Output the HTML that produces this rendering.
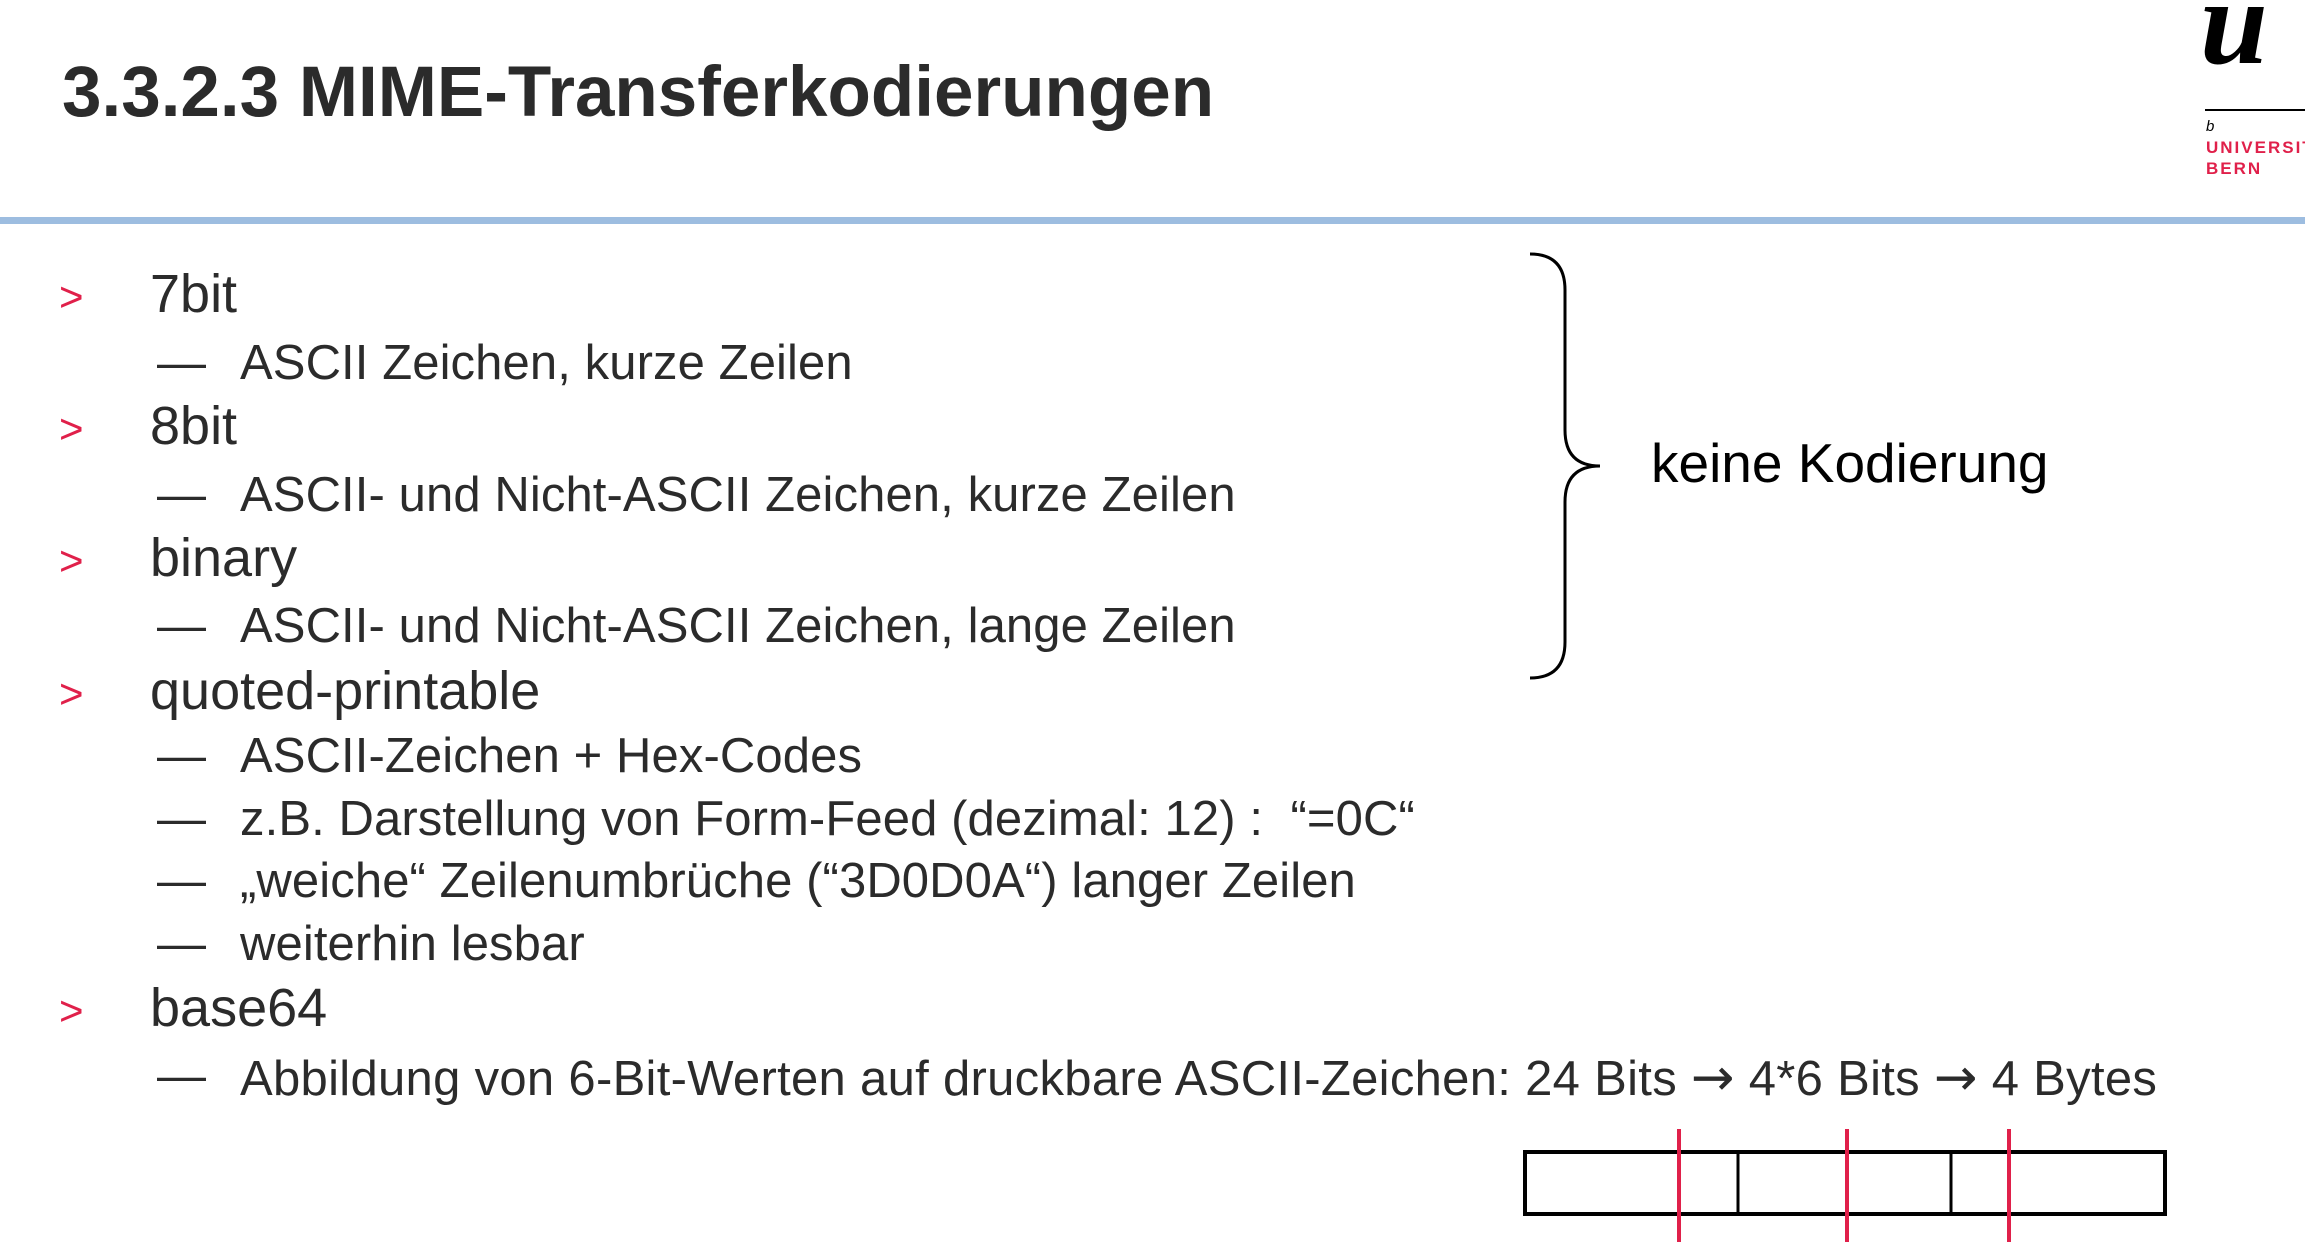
<!DOCTYPE html>
<html><head><meta charset="utf-8"><style>
body{margin:0;width:2305px;height:1253px;background:#fff;position:relative;overflow:hidden;font-family:"Liberation Sans",sans-serif;color:#2b2b2b}
.a{position:absolute;line-height:1;white-space:nowrap}
.t{font-size:71px;font-weight:bold;left:62px;top:57px}
.l1{font-size:54px;left:150px}
.l2{font-size:49px;left:240px;letter-spacing:0.1px}
.g{font-size:42px;color:#e0204a;left:59px}
.d{font-size:49px;left:157px}
.ar{font-family:"DejaVu Sans",sans-serif;font-size:52px}
</style></head><body>
<div class="a t">3.3.2.3 MIME-Transferkodierungen</div>
<div style="position:absolute;left:0;top:217px;width:2305px;height:7px;background:#9dbde0"></div>
<div class="a" style="left:2200px;top:-38px;font-family:'Liberation Serif',serif;font-style:italic;font-weight:bold;font-size:122px;color:#000">u</div>
<div style="position:absolute;left:2205px;top:109px;width:100px;height:2px;background:#000"></div>
<div class="a" style="left:2206px;top:119px;font-size:15px;font-style:italic;color:#000">b</div>
<div class="a" style="left:2206px;top:139px;font-size:17px;font-weight:bold;color:#e0204a;letter-spacing:2px">UNIVERSITÄT</div>
<div class="a" style="left:2206px;top:160px;font-size:17px;font-weight:bold;color:#e0204a;letter-spacing:2px">BERN</div>

<div class="a g" style="top:276px">&gt;</div><div class="a l1" style="top:267px">7bit</div>
<div class="a d" style="top:339px">—</div><div class="a l2" style="top:339px">ASCII Zeichen, kurze Zeilen</div>
<div class="a g" style="top:408px">&gt;</div><div class="a l1" style="top:399px">8bit</div>
<div class="a d" style="top:471px">—</div><div class="a l2" style="top:471px">ASCII- und Nicht-ASCII Zeichen, kurze Zeilen</div>
<div class="a g" style="top:540px">&gt;</div><div class="a l1" style="top:531px">binary</div>
<div class="a d" style="top:602px">—</div><div class="a l2" style="top:602px">ASCII- und Nicht-ASCII Zeichen, lange Zeilen</div>
<div class="a g" style="top:673px">&gt;</div><div class="a l1" style="top:664px">quoted-printable</div>
<div class="a d" style="top:732px">—</div><div class="a l2" style="top:732px">ASCII-Zeichen + Hex-Codes</div>
<div class="a d" style="top:795px">—</div><div class="a l2" style="top:795px">z.B. Darstellung von Form-Feed (dezimal: 12) :&nbsp; “=0C“</div>
<div class="a d" style="top:857px">—</div><div class="a l2" style="top:857px">„weiche“ Zeilenumbrüche (“3D0D0A“) langer Zeilen</div>
<div class="a d" style="top:920px">—</div><div class="a l2" style="top:920px">weiterhin lesbar</div>
<div class="a g" style="top:990px">&gt;</div><div class="a l1" style="top:981px">base64</div>
<div class="a d" style="top:1052px">—</div><div class="a l2" style="top:1052px;letter-spacing:0.3px">Abbildung von 6-Bit-Werten auf druckbare ASCII-Zeichen: 24 Bits <span class="ar">→</span> 4*6 Bits <span class="ar">→</span> 4 Bytes</div>

<div class="a" style="left:1651px;top:436px;font-size:55px;color:#000">keine Kodierung</div>
<svg width="2305" height="1253" style="position:absolute;left:0;top:0" fill="none">
<path d="M1530 254 Q1565 254 1565 290 L1565 430 Q1565 466 1600 466 Q1565 466 1565 502 L1565 642 Q1565 678 1530 678" stroke="#000" stroke-width="3"/>
<rect x="1525" y="1152" width="640" height="62" stroke="#000" stroke-width="4"/>
<line x1="1738" y1="1152" x2="1738" y2="1214" stroke="#000" stroke-width="3"/>
<line x1="1951" y1="1152" x2="1951" y2="1214" stroke="#000" stroke-width="3"/>
<line x1="1679" y1="1129" x2="1679" y2="1242" stroke="#e0204a" stroke-width="4"/>
<line x1="1847" y1="1129" x2="1847" y2="1242" stroke="#e0204a" stroke-width="4"/>
<line x1="2009" y1="1129" x2="2009" y2="1242" stroke="#e0204a" stroke-width="4"/>
</svg>
</body></html>
